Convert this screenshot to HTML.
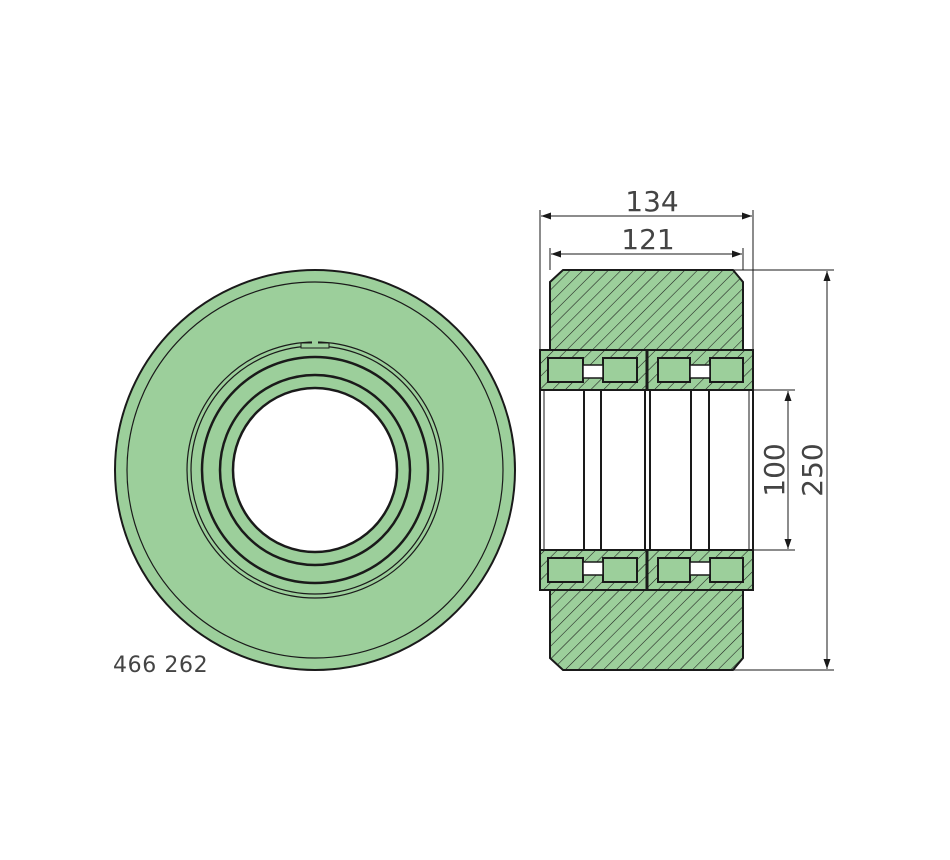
<!DOCTYPE html><html><head><style>body{margin:0;background:#fff}svg{display:block}</style></head><body>
<svg width="950" height="860" viewBox="0 0 950 860" xmlns="http://www.w3.org/2000/svg" font-family="Liberation Sans, sans-serif">
<defs>
<pattern id="h" patternUnits="userSpaceOnUse" width="9" height="9" patternTransform="rotate(45)"><rect width="9" height="9" fill="#9ccf9b"/><line x1="0" y1="0" x2="0" y2="9" stroke="#1a1a1a" stroke-width="1.1"/></pattern>
<marker id="a" viewBox="0 0 10 10" refX="10" refY="5" markerWidth="10" markerHeight="10" orient="auto-start-reverse" markerUnits="userSpaceOnUse"><path d="M0,1.5L10,5L0,8.5z" fill="#1a1a1a"/></marker>
</defs>
<circle cx="315" cy="470" r="200" fill="#9ccf9b" stroke="#1a1a1a" stroke-width="2"/>
<circle cx="315" cy="470" r="188" fill="none" stroke="#1a1a1a" stroke-width="1.2"/>
<circle cx="315" cy="470" r="128" fill="none" stroke="#1a1a1a" stroke-width="1.2"/>
<circle cx="315" cy="470" r="124" fill="none" stroke="#1a1a1a" stroke-width="1.2"/>
<circle cx="315" cy="470" r="113" fill="none" stroke="#1a1a1a" stroke-width="2.5"/>
<circle cx="315" cy="470" r="95" fill="none" stroke="#1a1a1a" stroke-width="2.5"/>
<circle cx="315" cy="470" r="82" fill="#fff" stroke="#1a1a1a" stroke-width="2.5"/>
<rect x="301" y="343" width="28" height="5" fill="#9ccf9b" stroke="#1a1a1a" stroke-width="1"/>
<rect x="312" y="340" width="6" height="6" fill="#9ccf9b"/>
<text x="113" y="672" font-size="22" fill="#444" letter-spacing="0.6" font-family="DejaVu Sans, sans-serif">466 262</text>
<path d="M563,270H733L743,282V350H550V282Z" fill="url(#h)" stroke="#1a1a1a" stroke-width="2"/>
<path d="M550,590H743V658L733,670H563L550,658Z" fill="url(#h)" stroke="#1a1a1a" stroke-width="2"/>
<g stroke="#1a1a1a">
<rect x="540" y="350" width="213" height="40" fill="url(#h)" stroke-width="2"/>
<rect x="540" y="550" width="213" height="40" fill="url(#h)" stroke-width="2"/>
<line x1="647" y1="350" x2="647" y2="390" stroke-width="3"/>
<line x1="647" y1="550" x2="647" y2="590" stroke-width="3"/>
<g fill="#9ccf9b" stroke-width="2">
<rect x="548" y="358" width="35" height="24"/><rect x="603" y="358" width="34" height="24"/>
<rect x="658" y="358" width="32" height="24"/><rect x="710" y="358" width="33" height="24"/>
<rect x="548" y="558" width="35" height="24"/><rect x="603" y="558" width="34" height="24"/>
<rect x="658" y="558" width="32" height="24"/><rect x="710" y="558" width="33" height="24"/>
</g>
<g fill="#fff" stroke-width="1.5">
<rect x="583" y="365" width="20" height="13"/><rect x="690" y="365" width="20" height="13"/>
<rect x="583" y="562" width="20" height="13"/><rect x="690" y="562" width="20" height="13"/>
</g>
<rect x="540" y="390" width="213" height="160" fill="#fff" stroke-width="2"/>
<g stroke-width="2"><line x1="584" y1="390" x2="584" y2="550"/><line x1="601" y1="390" x2="601" y2="550"/>
<line x1="691" y1="390" x2="691" y2="550"/><line x1="709" y1="390" x2="709" y2="550"/>
<line x1="645" y1="390" x2="645" y2="550"/><line x1="650" y1="390" x2="650" y2="550"/></g>
<g stroke-width="1"><line x1="544" y1="390" x2="544" y2="550"/><line x1="749" y1="390" x2="749" y2="550"/></g>
<g stroke-width="1" fill="none">
<line x1="540" y1="210" x2="540" y2="350"/><line x1="753" y1="210" x2="753" y2="350"/>
<line x1="550" y1="248" x2="550" y2="270"/><line x1="743" y1="248" x2="743" y2="270"/>
<line x1="541" y1="216" x2="752" y2="216" marker-start="url(#a)" marker-end="url(#a)"/>
<line x1="551" y1="254" x2="742" y2="254" marker-start="url(#a)" marker-end="url(#a)"/>
<line x1="733" y1="270" x2="834" y2="270"/><line x1="733" y1="670" x2="834" y2="670"/>
<line x1="827" y1="271" x2="827" y2="669" marker-start="url(#a)" marker-end="url(#a)"/>
<line x1="753" y1="390" x2="795" y2="390"/><line x1="753" y1="550" x2="795" y2="550"/>
<line x1="788" y1="391" x2="788" y2="549" marker-start="url(#a)" marker-end="url(#a)"/>
</g>
</g>
<g font-size="28" fill="#444" text-anchor="middle" font-family="DejaVu Sans, sans-serif">
<text x="652" y="211">134</text>
<text x="648" y="249">121</text>
<text transform="translate(822,470) rotate(-90)">250</text>
<text transform="translate(784,470) rotate(-90)">100</text>
</g>
</svg>
</body></html>
